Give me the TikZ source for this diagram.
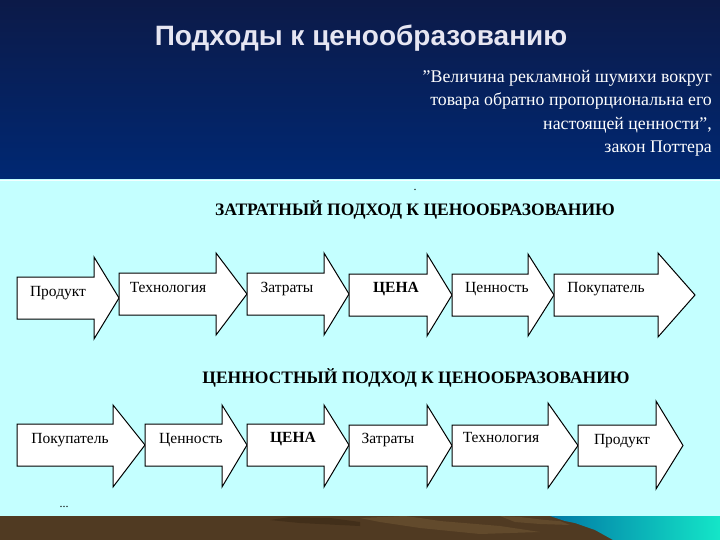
\documentclass[tikz,border=0pt]{standalone}
\usepackage{fontspec}
\setmainfont{Liberation Serif}
\newfontfamily\titlefont{Liberation Sans}
\usetikzlibrary{calc}
\definecolor{navytop}{RGB}{12,26,72}
\definecolor{navybot}{RGB}{0,40,115}
\definecolor{paleCyan}{RGB}{196,255,255}
\definecolor{earth}{RGB}{80,58,34}
\definecolor{earthlight}{RGB}{98,74,44}
\definecolor{earthdark}{RGB}{66,47,26}
\definecolor{seaA}{RGB}{0,120,165}
\definecolor{seaB}{RGB}{20,230,200}
\definecolor{titlegrey}{RGB}{230,230,242}
\tikzset{
  arrowbox/.style={draw=black, fill=white, line width=1pt, line join=miter},
  lbl/.style={font=\fontsize{15.5}{17}\selectfont, inner sep=0pt, text=black},
  lblbold/.style={lbl, font=\fontsize{15.5}{17}\selectfont\bfseries},
  heading/.style={font=\fontsize{17.5}{19}\selectfont\bfseries, inner sep=0pt},
  quote/.style={font=\fontsize{17.8}{23.4}\selectfont, text=white, align=right, inner sep=0pt},
}
\newcommand\bigarrow[7]{%
  \draw[arrowbox] (#1,#4) -- (#2,#4) -- (#2,#6) -- (#3,{(#4+#5)/2}) -- (#2,#7) -- (#2,#5) -- (#1,#5) -- cycle;}
\begin{document}
\begin{tikzpicture}[x=1pt,y=-1pt]
\useasboundingbox (0,0) rectangle (720,540);
% backgrounds
\fill[paleCyan] (0,179) rectangle (720,540);
\shade[top color=navytop, bottom color=navybot] (0,0) rectangle (720,179);
\draw[white!80!paleCyan, line width=0.8pt] (0,180.5) -- (720,180.5);
% ground strip
\fill[earth] (0,516) rectangle (720,540);
\fill[earthdark] (270,520) -- (290,517) -- (330,518) -- (360,522) -- (360,526) -- (300,523) -- cycle;
\fill[earthlight] (360,518) -- (405,516) -- (420,518) -- (440,521) -- (500,526) -- (540,532) -- (480,534) -- (420,528) -- (380,522) -- cycle;
\fill[earthlight] (500,516) -- (520,517) -- (545,520) -- (560,521) -- (570,525) -- (540,524) -- (515,522) -- cycle;
\shade[left color=seaA, right color=seaB] (550,516) -- (720,516) -- (720,540) -- (613,540) -- (595,530) -- (575,523) -- (565,521) -- cycle;
% title and quote
\node[font=\titlefont\bfseries\fontsize{28}{30}\selectfont, text=titlegrey, inner sep=0pt] (title) at (361,38) {Подходы к ценообразованию};
\node[quote, anchor=north east] (quote) at (712,70) {”Величина рекламной шумихи вокруг\\товара обратно пропорциональна его\\настоящей ценности”,\\закон Поттера};
% headings
\node[font=\fontsize{12}{12}\selectfont, inner sep=0pt] (dot) at (415,190) {.};
\node[heading] (h1) at (415,210) {ЗАТРАТНЫЙ ПОДХОД К ЦЕНООБРАЗОВАНИЮ};
\node[heading] (h2) at (416,378) {ЦЕННОСТНЫЙ ПОДХОД К ЦЕНООБРАЗОВАНИЮ};
% top row arrows
\bigarrow{17}{94}{119}{277}{319}{257}{339}
\bigarrow{119}{216}{247}{273}{315}{253}{335}
\bigarrow{247}{324}{349}{273}{315}{253}{335}
\bigarrow{349}{427}{452}{274}{316}{254}{336}
\bigarrow{452}{528}{554}{274}{316}{254}{336}
\bigarrow{554}{658}{695}{274}{316}{253}{337}
\node[lbl] (t1) at (58,293) {Продукт};
\node[lbl] (t2) at (168,288) {Технология};
\node[lbl] (t3) at (287,289) {Затраты};
\node[lblbold] (t4) at (396,289) {ЦЕНА};
\node[lbl] (t5) at (497,289) {Ценность};
\node[lbl] (t6) at (606,289) {Покупатель};
% bottom row arrows
\bigarrow{17}{113}{145}{424}{466}{405}{487}
\bigarrow{145}{222}{247}{424}{466}{405}{487}
\bigarrow{247}{324}{349}{424}{466}{405}{487}
\bigarrow{349}{427}{452}{425}{466}{405}{487}
\bigarrow{452}{548}{578}{425}{466}{403}{488}
\bigarrow{578}{656}{683}{425}{466}{401}{489}
\node[lbl] (b1) at (70,440) {Покупатель};
\node[lbl] (b2) at (191,440) {Ценность};
\node[lblbold] (b3) at (293,439) {ЦЕНА};
\node[lbl] (b4) at (388,440) {Затраты};
\node[lbl] (b5) at (501,437) {Технология};
\node[lbl] (b6) at (622,441) {Продукт};
\node[font=\fontsize{12}{12}\selectfont, inner sep=0pt] (dots) at (64,507) {...};
\end{tikzpicture}
\end{document}
